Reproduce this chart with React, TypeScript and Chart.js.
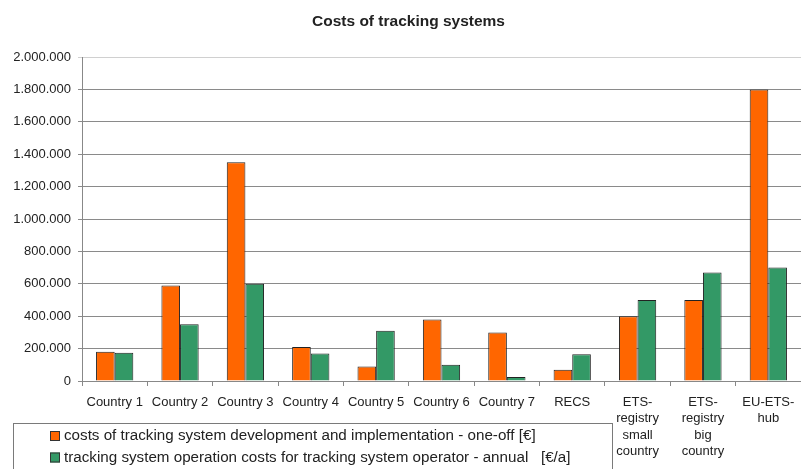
import React, { useEffect, useRef } from "react";
import { Chart, registerables } from "chart.js";

Chart.register(...registerables);

const titleText = "Costs of tracking systems";
const categories: (string | string[])[] = [
  "Country 1",
  "Country 2",
  "Country 3",
  "Country 4",
  "Country 5",
  "Country 6",
  "Country 7",
  "RECS",
  ["ETS-", "registry", "small", "country"],
  ["ETS-", "registry", "big", "country"],
  ["EU-ETS-", "hub"],
];
const seriesNames = [
  "costs of tracking system development and implementation - one-off [€]",
  "tracking system operation costs for tracking system operator - annual   [€/a]",
];
const oneOffCosts = [180000, 590000, 1350000, 210000, 90000, 380000, 300000, 70000, 400000, 500000, 1800000];
const annualCosts = [175000, 350000, 600000, 170000, 310000, 100000, 25000, 165000, 500000, 670000, 700000];
const seriesColors = ["#FF6600", "#339966"];
const yMax = 2000000;
const yStep = 200000;

const fmt = (v: number) =>
  String(Math.round(v)).replace(/\B(?=(\d{3})+(?!\d))/g, ".");

const FONT = "'Liberation Sans', Arial, sans-serif";

const legendPlugin = {
  id: "boxLegend",
  afterDraw(chart: any) {
    const ctx = chart.ctx;
    ctx.save();
    ctx.strokeStyle = "#7a7a7a";
    ctx.lineWidth = 1;
    ctx.strokeRect(13.5, 423.5, 599, 60);
    ctx.font = `15.2px ${FONT}`;
    ctx.textBaseline = "middle";
    chart.data.datasets.forEach((ds: any, i: number) => {
      const cy = 436 + i * 21.5;
      ctx.fillStyle = ds.backgroundColor;
      ctx.fillRect(50, cy - 5, 10, 10);
      ctx.strokeStyle = "#333";
      ctx.strokeRect(50.5, cy - 4.5, 9, 9);
      ctx.fillStyle = "#222";
      ctx.fillText(ds.label, 64, cy);
    });
    ctx.restore();
  },
};

export default function App() {
  const ref = useRef<HTMLCanvasElement | null>(null);
  useEffect(() => {
    if (!ref.current) return;
    const chart = new Chart(ref.current, {
      type: "bar",
      data: {
        labels: categories,
        datasets: [
          {
            label: seriesNames[0],
            data: oneOffCosts,
            backgroundColor: seriesColors[0],
            borderColor: "#222",
            borderWidth: 1,
          },
          {
            label: seriesNames[1],
            data: annualCosts,
            backgroundColor: seriesColors[1],
            borderColor: "#222",
            borderWidth: 1,
          },
        ],
      },
      options: {
        animation: false,
        responsive: true,
        maintainAspectRatio: false,
        layout: { padding: { left: 14, right: -2, top: 0, bottom: 0 } },
        datasets: {
          bar: { categoryPercentage: 0.57, barPercentage: 1 },
        },
        plugins: {
          legend: { display: false },
          tooltip: { enabled: false },
          title: {
            display: true,
            text: titleText,
            color: "#222",
            font: { family: FONT, size: 15.5, weight: "bold", lineHeight: 1.2 },
            padding: { top: 12, bottom: 26.4 },
          },
        },
        scales: {
          x: {
            afterFit: (s: any) => {
              s.height = 88;
              s.paddingRight = 0;
            },
            grid: {
              drawOnChartArea: false,
              drawTicks: true,
              tickLength: 5,
              color: "#888",
              offset: true,
            },
            border: { display: true, color: "#888", width: 1 },
            ticks: {
              color: "#222",
              padding: 8,
              maxRotation: 0,
              autoSkip: false,
              font: { family: FONT, size: 13, lineHeight: 1.26 },
            },
          },
          y: {
            min: 0,
            max: yMax,
            afterFit: (s: any) => {
              s.width = 68;
            },
            grid: {
              color: (c: any) => (c.tick && c.tick.value === yMax ? "#d0d0d0" : "#8a8a8a"),
              drawTicks: true,
              tickLength: 4,
            },
            border: { display: true, color: "#888", width: 1 },
            ticks: {
              stepSize: yStep,
              color: "#222",
              padding: 7,
              font: { family: FONT, size: 13 },
              callback: (v: any) => fmt(Number(v)),
            },
          },
        },
      },
      plugins: [legendPlugin],
    });
    return () => chart.destroy();
  }, []);
  return (
    <div style={{ position: "absolute", left: 0, top: 0, width: 801, height: 469, background: "#fff" }}>
      <canvas ref={ref} />
    </div>
  );
}
